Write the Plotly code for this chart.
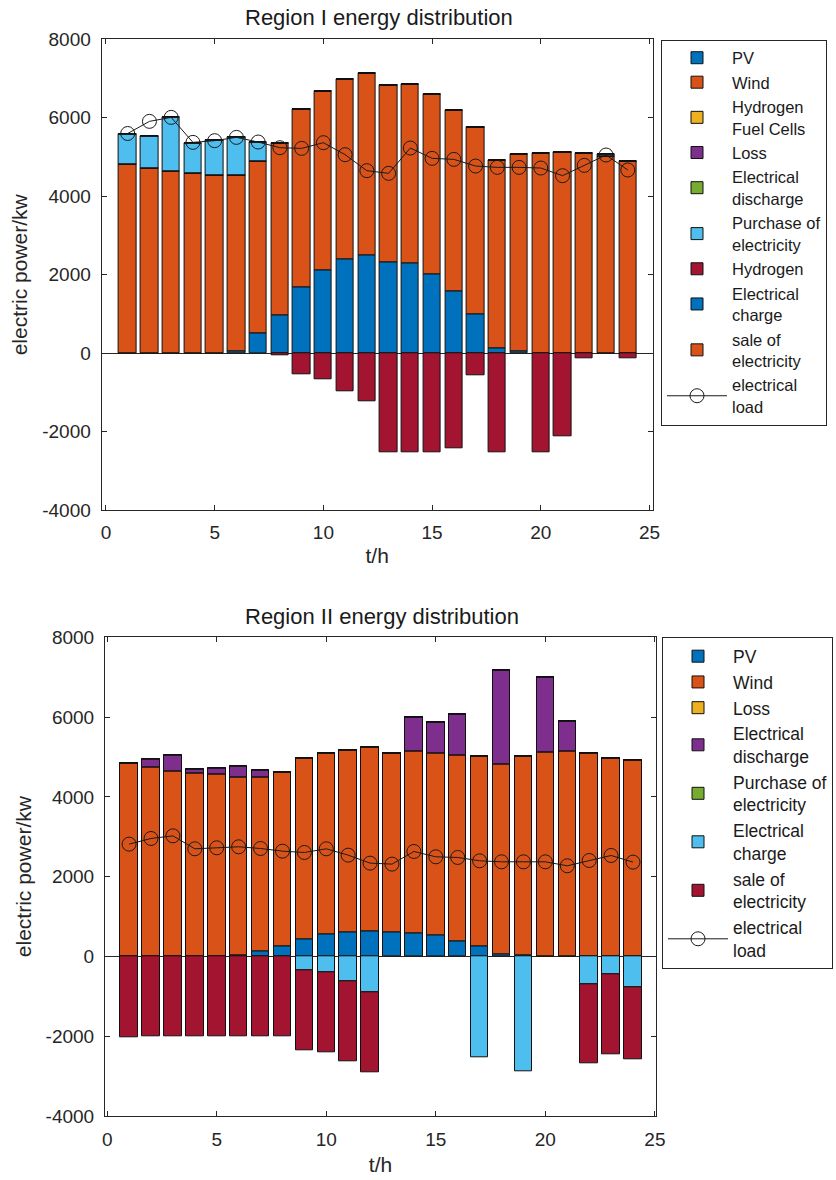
import plotly.graph_objects as go

hours = list(range(1, 25))

# ---------------- Region I ----------------
r1_pv = [0, 0, 0, 0, 0, 51, 501, 968, 1681, 2123, 2394, 2488, 2318, 2292, 2021, 1579, 993, 136, 59, 0, 0, 0, 0, 0]
r1_wind = [4823, 4720, 4644, 4593, 4542, 4491, 4381, 4381, 4534, 4559, 4593, 4644, 4508, 4568, 4584, 4619, 4755, 4788, 5001, 5086, 5111, 5086, 5009, 4899]
r1_hfc = [0] * 24
r1_loss = [0] * 24
r1_discharge = [0] * 24
r1_purchase = [755, 799, 1367, 756, 875, 959, 501, 0, 0, 0, 0, 0, 0, 0, 0, 0, 0, 0, 0, 0, 0, 0, 51, 0]
r1_hydrogen = [0, 0, 0, 0, 0, 0, 0, -59, -526, -662, -976, -1214, -2530, -2513, -2513, -2428, -552, -2513, 0, -2513, -2123, -136, 0, -136]
r1_charge = [0] * 24
r1_sale = [0] * 24
r1_load = [5600, 5909, 6011, 5374, 5417, 5501, 5383, 5238, 5221, 5366, 5060, 4653, 4585, 5230, 4967, 4941, 4771, 4737, 4737, 4720, 4525, 4788, 5052, 4670]

# ---------------- Region II ----------------
r2_pv = [0, 0, 0, 0, 0, 33, 134, 251, 434, 543, 601, 635, 601, 585, 518, 384, 259, 58, 17, 0, 0, 0, 0, 0]
r2_wind = [4844, 4736, 4652, 4594, 4577, 4469, 4368, 4376, 4544, 4560, 4577, 4602, 4502, 4568, 4577, 4652, 4769, 4753, 5011, 5111, 5137, 5103, 4978, 4919]
r2_loss = [0] * 24
r2_discharge = [0, 217, 384, 91, 134, 259, 175, 0, 0, 0, 0, 0, 0, 844, 768, 1036, 0, 2372, 0, 1888, 760, 0, 0, 0]
r2_purchase = [0] * 24
r2_charge = [0, 0, 0, 0, 0, 0, 0, 0, -351, -393, -626, -902, 0, 0, 0, 0, -2531, 0, -2881, 0, 0, -693, -451, -785]
r2_sale = [-2030, -1996, -1996, -1996, -1996, -1996, -1996, -1996, -1996, -2012, -2013, -2004, 0, 0, 0, 0, 0, 0, 0, 0, 0, -1996, -1996, -1796]
r2_load = [2815, 2957, 3023, 2698, 2723, 2748, 2706, 2639, 2606, 2698, 2539, 2339, 2314, 2631, 2497, 2481, 2397, 2372, 2372, 2372, 2272, 2405, 2531, 2364]

x_ticks = [0, 5, 10, 15, 20, 25]
y_ticks = [-4000, -2000, 0, 2000, 4000, 6000, 8000]
y_ticktext = ["-4000", "-2000", "0", "2000", "4000", "6000", "8000"]

C_BLUE = "rgb(0,114,189)"
C_ORANGE = "rgb(217,83,25)"
C_YELLOW = "rgb(237,177,32)"
C_PURPLE = "rgb(126,47,142)"
C_GREEN = "rgb(119,172,48)"
C_LBLUE = "rgb(77,190,238)"
C_RED = "rgb(162,20,47)"

FONT = "Liberation Sans, Arial, sans-serif"
W, H = 836, 1180

fig = go.Figure()

r1_series = [
    ("PV", r1_pv, C_BLUE),
    ("Wind", r1_wind, C_ORANGE),
    ("Hydrogen<br>Fuel Cells", r1_hfc, C_YELLOW),
    ("Loss", r1_loss, C_PURPLE),
    ("Electrical<br>discharge", r1_discharge, C_GREEN),
    ("Purchase of<br>electricity", r1_purchase, C_LBLUE),
    ("Hydrogen", r1_hydrogen, C_RED),
    ("Electrical<br>charge", r1_charge, C_BLUE),
    ("sale of<br>electricity", r1_sale, C_ORANGE),
]
r2_series = [
    ("PV", r2_pv, C_BLUE),
    ("Wind", r2_wind, C_ORANGE),
    ("Loss", r2_loss, C_YELLOW),
    ("Electrical<br>discharge", r2_discharge, C_PURPLE),
    ("Purchase of<br>electricity", r2_purchase, C_GREEN),
    ("Electrical<br>charge", r2_charge, C_LBLUE),
    ("sale of<br>electricity", r2_sale, C_RED),
]

for name, vals, col in r1_series:
    fig.add_trace(go.Bar(x=hours, y=vals, name=name, marker=dict(color=col, line=dict(color="#111111", width=1)),
                         width=0.8, xaxis="x", yaxis="y", legend="legend"))
fig.add_trace(go.Scatter(x=hours, y=r1_load, name="electrical<br>load", mode="lines+markers",
                         line=dict(color="#1a1a1a", width=1),
                         marker=dict(symbol="circle-open", size=14, color="#1a1a1a", line=dict(width=1)),
                         xaxis="x", yaxis="y", legend="legend"))

for name, vals, col in r2_series:
    fig.add_trace(go.Bar(x=hours, y=vals, name=name, marker=dict(color=col, line=dict(color="#111111", width=1)),
                         width=0.8, xaxis="x2", yaxis="y2", legend="legend2"))
fig.add_trace(go.Scatter(x=hours, y=r2_load, name="electrical<br>load", mode="lines+markers",
                         line=dict(color="#1a1a1a", width=1),
                         marker=dict(symbol="circle-open", size=14, color="#1a1a1a", line=dict(width=1)),
                         xaxis="x2", yaxis="y2", legend="legend2"))


def px_x(p):
    return p / W


def px_y(p):
    return 1 - p / H


axis_common = dict(
    showline=True, linecolor="#262626", linewidth=1, mirror="ticks",
    ticks="inside", ticklen=5, tickcolor="#262626", showgrid=False,
    tickfont=dict(family=FONT, size=19, color="#262626"),
)
title_font = dict(family=FONT, size=21, color="#262626")

leg_common = dict(
    bgcolor="white", bordercolor="#262626", borderwidth=1,
    traceorder="normal", xanchor="left", yanchor="top", itemwidth=60,
    tracegroupgap=0,
)

fig.update_layout(
    width=W, height=H,
    margin=dict(l=0, r=0, t=0, b=0, autoexpand=False),
    paper_bgcolor="white", plot_bgcolor="white",
    barmode="relative", bargap=0,
    font=dict(family=FONT, color="#262626"),
    xaxis=dict(domain=[px_x(101.6), px_x(652.8)], range=[-0.2, 25.15], tickvals=x_ticks,
               zeroline=False, anchor="y", ticklabelstandoff=5, **axis_common,
               title=dict(text="t/h", font=title_font, standoff=6)),
    yaxis=dict(domain=[px_y(510.3), px_y(39.3)], range=[-4000, 8000], tickvals=y_ticks, ticktext=y_ticktext,
               zeroline=True, zerolinecolor="#262626", zerolinewidth=1, anchor="x", ticklabelstandoff=6,
               **axis_common,
               title=dict(text="electric power/kw", font=title_font, standoff=8)),
    xaxis2=dict(domain=[px_x(105), px_x(656)], range=[-0.1, 25.05], tickvals=x_ticks,
                zeroline=False, anchor="y2", ticklabelstandoff=6, **axis_common,
                title=dict(text="t/h", font=title_font, standoff=8)),
    yaxis2=dict(domain=[px_y(1116), px_y(637.3)], range=[-4000, 8000], tickvals=y_ticks, ticktext=y_ticktext,
                zeroline=True, zerolinecolor="#262626", zerolinewidth=1, anchor="x2", ticklabelstandoff=6,
                **axis_common,
                title=dict(text="electric power/kw", font=title_font, standoff=8)),
    legend=dict(x=px_x(661), y=px_y(39.5), font=dict(family=FONT, size=16.5, color="#1a1a1a"), **leg_common),
    legend2=dict(x=px_x(662), y=px_y(637.3), font=dict(family=FONT, size=17.5, color="#1a1a1a"), **leg_common),
    showlegend=True,
    annotations=[
        dict(text="Region I energy distribution", x=px_x(379), y=px_y(18), xref="paper", yref="paper",
             showarrow=False, font=dict(family=FONT, size=22, color="#1a1a1a"), xanchor="center", yanchor="middle"),
        dict(text="Region II energy distribution", x=px_x(382), y=px_y(616), xref="paper", yref="paper",
             showarrow=False, font=dict(family=FONT, size=22, color="#1a1a1a"), xanchor="center", yanchor="middle"),
    ],
)

fig.write_html("out.html")
